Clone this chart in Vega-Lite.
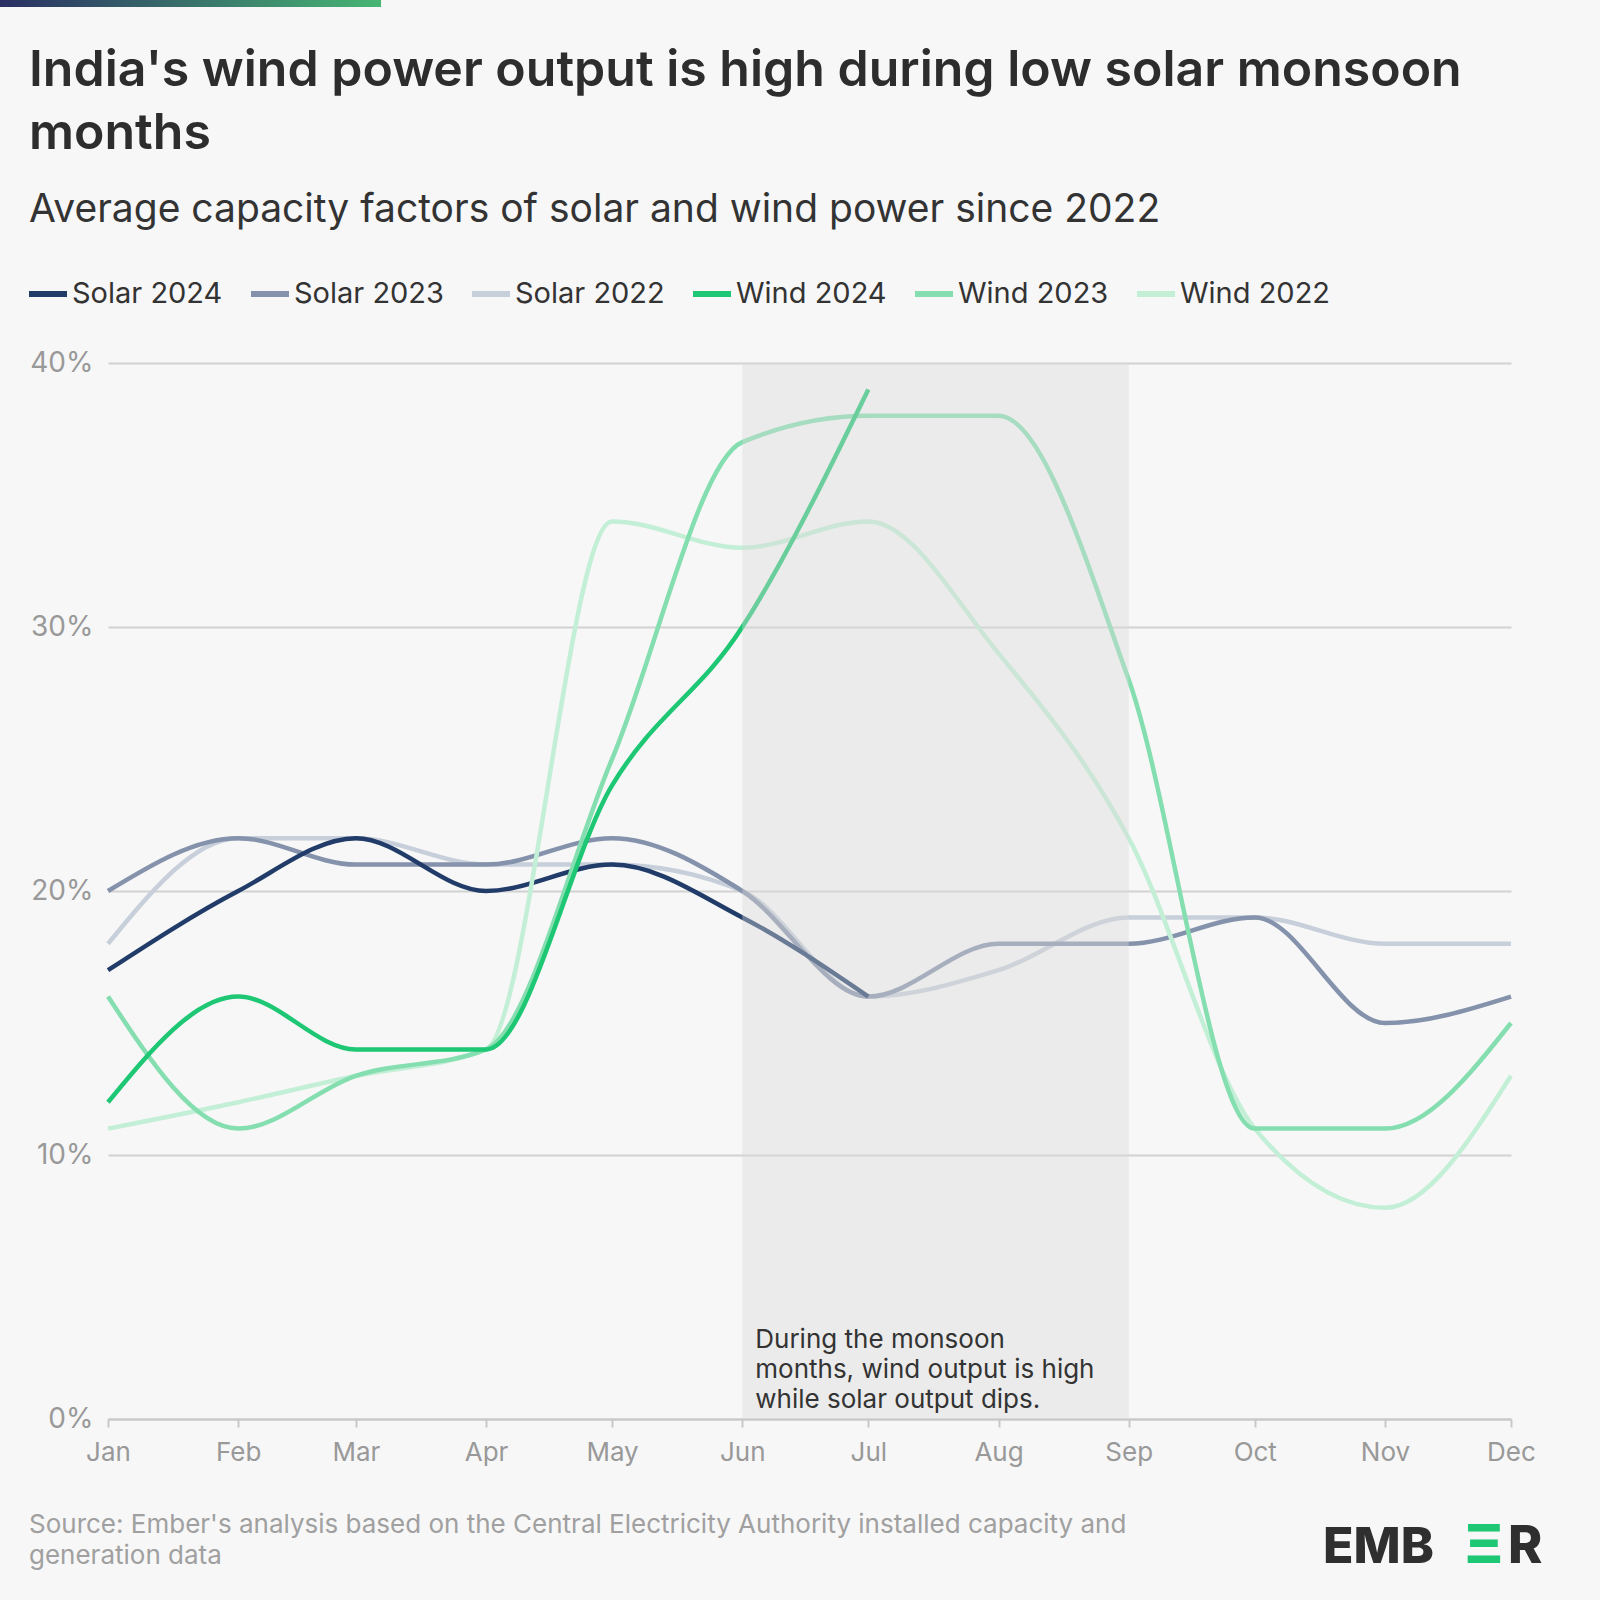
{
  "$schema": "https://vega.github.io/schema/vega-lite/v6.json",
  "width": 1403,
  "height": 1056,
  "autosize": {"type": "none"},
  "padding": {"left": 108, "top": 363, "right": 89, "bottom": 181},
  "background": "#f7f7f7",
  "config": {
    "font": "Inter",
    "view": {"stroke": null},
    "axisX": {
      "domainColor": "#c8c8c8", "domainWidth": 2, "tickColor": "#c8c8c8", "tickWidth": 2, "tickSize": 8,
      "labelColor": "#999999", "labelFontSize": 26, "labelPadding": 12, "labelFlush": false, "grid": false, "title": null, "labelFont": "Inter"
    },
    "axisY": {
      "domain": false, "ticks": false, "grid": true, "gridColor": "#d2d2d2", "gridWidth": 2,
      "labelColor": "#999999", "labelFontSize": 28, "labelPadding": 15, "title": null, "labelFont": "Inter"
    }
  },
  "title": {
    "text": ["India's wind power output is high during low solar monsoon", "months"],
    "subtitle": "Average capacity factors of solar and wind power since 2022",
    "anchor": "start",
    "frame": "group",
    "dx": -79,
    "offset": -230,
    "font": "Inter",
    "fontSize": 50,
    "fontWeight": 600,
    "color": "#2d2d2d",
    "lineHeight": 63,
    "subtitleFont": "Inter",
    "subtitleFontSize": 39,
    "subtitleFontWeight": 400,
    "subtitleColor": "#333333",
    "subtitlePadding": 32
  },
  "datasets": {
    "cf": [
      {"series": "Solar 2022", "date": "2023-01-01", "value": 18},
      {"series": "Solar 2022", "date": "2023-02-01", "value": 22},
      {"series": "Solar 2022", "date": "2023-03-01", "value": 22},
      {"series": "Solar 2022", "date": "2023-04-01", "value": 21},
      {"series": "Solar 2022", "date": "2023-05-01", "value": 21},
      {"series": "Solar 2022", "date": "2023-06-01", "value": 20},
      {"series": "Solar 2022", "date": "2023-07-01", "value": 16},
      {"series": "Solar 2022", "date": "2023-08-01", "value": 17},
      {"series": "Solar 2022", "date": "2023-09-01", "value": 19},
      {"series": "Solar 2022", "date": "2023-10-01", "value": 19},
      {"series": "Solar 2022", "date": "2023-11-01", "value": 18},
      {"series": "Solar 2022", "date": "2023-12-01", "value": 18},
      {"series": "Solar 2023", "date": "2023-01-01", "value": 20},
      {"series": "Solar 2023", "date": "2023-02-01", "value": 22},
      {"series": "Solar 2023", "date": "2023-03-01", "value": 21},
      {"series": "Solar 2023", "date": "2023-04-01", "value": 21},
      {"series": "Solar 2023", "date": "2023-05-01", "value": 22},
      {"series": "Solar 2023", "date": "2023-06-01", "value": 20},
      {"series": "Solar 2023", "date": "2023-07-01", "value": 16},
      {"series": "Solar 2023", "date": "2023-08-01", "value": 18},
      {"series": "Solar 2023", "date": "2023-09-01", "value": 18},
      {"series": "Solar 2023", "date": "2023-10-01", "value": 19},
      {"series": "Solar 2023", "date": "2023-11-01", "value": 15},
      {"series": "Solar 2023", "date": "2023-12-01", "value": 16},
      {"series": "Solar 2024", "date": "2023-01-01", "value": 17},
      {"series": "Solar 2024", "date": "2023-02-01", "value": 20},
      {"series": "Solar 2024", "date": "2023-03-01", "value": 22},
      {"series": "Solar 2024", "date": "2023-04-01", "value": 20},
      {"series": "Solar 2024", "date": "2023-05-01", "value": 21},
      {"series": "Solar 2024", "date": "2023-06-01", "value": 19},
      {"series": "Solar 2024", "date": "2023-07-01", "value": 16},
      {"series": "Wind 2022", "date": "2023-01-01", "value": 11},
      {"series": "Wind 2022", "date": "2023-02-01", "value": 12},
      {"series": "Wind 2022", "date": "2023-03-01", "value": 13},
      {"series": "Wind 2022", "date": "2023-04-01", "value": 14},
      {"series": "Wind 2022", "date": "2023-05-01", "value": 34},
      {"series": "Wind 2022", "date": "2023-06-01", "value": 33},
      {"series": "Wind 2022", "date": "2023-07-01", "value": 34},
      {"series": "Wind 2022", "date": "2023-08-01", "value": 29},
      {"series": "Wind 2022", "date": "2023-09-01", "value": 22},
      {"series": "Wind 2022", "date": "2023-10-01", "value": 11},
      {"series": "Wind 2022", "date": "2023-11-01", "value": 8},
      {"series": "Wind 2022", "date": "2023-12-01", "value": 13},
      {"series": "Wind 2023", "date": "2023-01-01", "value": 16},
      {"series": "Wind 2023", "date": "2023-02-01", "value": 11},
      {"series": "Wind 2023", "date": "2023-03-01", "value": 13},
      {"series": "Wind 2023", "date": "2023-04-01", "value": 14},
      {"series": "Wind 2023", "date": "2023-05-01", "value": 25},
      {"series": "Wind 2023", "date": "2023-06-01", "value": 37},
      {"series": "Wind 2023", "date": "2023-07-01", "value": 38},
      {"series": "Wind 2023", "date": "2023-08-01", "value": 38},
      {"series": "Wind 2023", "date": "2023-09-01", "value": 28},
      {"series": "Wind 2023", "date": "2023-10-01", "value": 11},
      {"series": "Wind 2023", "date": "2023-11-01", "value": 11},
      {"series": "Wind 2023", "date": "2023-12-01", "value": 15},
      {"series": "Wind 2024", "date": "2023-01-01", "value": 12},
      {"series": "Wind 2024", "date": "2023-02-01", "value": 16},
      {"series": "Wind 2024", "date": "2023-03-01", "value": 14},
      {"series": "Wind 2024", "date": "2023-04-01", "value": 14},
      {"series": "Wind 2024", "date": "2023-05-01", "value": 24},
      {"series": "Wind 2024", "date": "2023-06-01", "value": 30},
      {"series": "Wind 2024", "date": "2023-07-01", "value": 39}
    ],
    "monsoon": [{"start": "2023-06-01", "end": "2023-09-01"}],
    "one": [{}]
  },
  "layer": [
    {
      "data": {"name": "one"},
      "mark": {"type": "rect", "color": {"gradient": "linear", "x1": 0, "x2": 1, "y1": 0, "y2": 0, "stops": [{"offset": 0, "color": "#2a2f63"}, {"offset": 1, "color": "#47b673"}]}},
      "encoding": {
        "x": {"datum": {"year": 2022, "month": 12, "date": 6, "hours": 7, "utc": true}, "type": "temporal", "scale": {"type": "utc", "domain": [{"year": 2023, "month": 1, "date": 1, "utc": true}, {"year": 2023, "month": 12, "date": 1, "utc": true}], "nice": false}},
        "x2": {"datum": {"year": 2023, "month": 3, "date": 7, "utc": true}},
        "y": {"datum": 53.75, "type": "quantitative", "scale": {"domain": [0, 40], "nice": false}},
        "y2": {"datum": 53.485}
      }
    },
    {
      "data": {"name": "cf"},
      "mark": {"type": "line", "interpolate": "monotone", "strokeWidth": 4.5, "strokeCap": "butt"},
      "encoding": {
        "x": {"field": "date", "type": "temporal", "scale": {"type": "utc", "domain": [{"year": 2023, "month": 1, "date": 1, "utc": true}, {"year": 2023, "month": 12, "date": 1, "utc": true}], "nice": false},
          "axis": {"tickCount": {"interval": "month", "step": 1}, "labelExpr": "utcFormat(datum.value, '%b')"}},
        "y": {"field": "value", "type": "quantitative", "scale": {"domain": [0, 40], "nice": false},
          "axis": {"values": [0, 10, 20, 30, 40], "labelExpr": "datum.value + '%'"}},
        "color": {
          "field": "series", "type": "nominal",
          "scale": {
            "domain": ["Solar 2024", "Solar 2023", "Solar 2022", "Wind 2024", "Wind 2023", "Wind 2022"],
            "range": ["#213c69", "#8592ab", "#c7cfda", "#1ec773", "#84deaf", "#c2efd6"]
          },
          "legend": {
            "title": null, "orient": "none", "direction": "horizontal", "legendX": -82, "legendY": -91,
            "symbolType": "stroke", "symbolSize": 1444, "symbolStrokeWidth": 6,
            "labelFontSize": 29, "labelColor": "#333333", "labelFont": "Inter", "labelOffset": 2, "columnPadding": 16, "labelLimit": 400
          }
        }
      }
    },
    {
      "data": {"name": "monsoon"},
      "mark": {"type": "rect", "color": "#d9d9d9", "opacity": 0.4},
      "encoding": {
        "x": {"field": "start", "type": "temporal"},
        "x2": {"field": "end"}
      }
    },
    {
      "data": {"name": "one"},
      "mark": {"type": "text", "text": ["During the monsoon", "months, wind output is high", "while solar output dips."], "align": "left", "baseline": "alphabetic", "fontSize": 26, "lineHeight": 30, "color": "#333333", "dx": 13, "dy": -71},
      "encoding": {
        "x": {"datum": {"year": 2023, "month": 6, "date": 1, "utc": true}, "type": "temporal"},
        "y": {"datum": 0, "type": "quantitative"}
      }
    },
    {
      "data": {"name": "one"},
      "mark": {"type": "text", "text": ["Source: Ember's analysis based on the Central Electricity Authority installed capacity and", "generation data"], "align": "left", "baseline": "alphabetic", "fontSize": 26, "lineHeight": 31, "color": "#a0a0a0", "dx": -79, "dy": 114},
      "encoding": {
        "x": {"datum": {"year": 2023, "month": 1, "date": 1, "utc": true}, "type": "temporal"},
        "y": {"datum": 0, "type": "quantitative"}
      }
    },
    {
      "data": {"name": "one"},
      "mark": {"type": "text", "text": "EMB", "align": "right", "baseline": "alphabetic", "fontSize": 50, "fontWeight": 800, "color": "#2f2f2f", "dx": -77, "dy": 144},
      "encoding": {
        "x": {"datum": {"year": 2023, "month": 12, "date": 1, "utc": true}, "type": "temporal"},
        "y": {"datum": 0, "type": "quantitative"}
      }
    },
    {
      "data": {"name": "one"},
      "mark": {"type": "text", "text": "Ξ", "align": "center", "baseline": "alphabetic", "fontSize": 54, "fontWeight": 800, "color": "#1ec773", "dx": -27, "dy": 144},
      "encoding": {
        "x": {"datum": {"year": 2023, "month": 12, "date": 1, "utc": true}, "type": "temporal"},
        "y": {"datum": 0, "type": "quantitative"}
      }
    },
    {
      "data": {"name": "one"},
      "mark": {"type": "text", "text": "R", "align": "left", "baseline": "alphabetic", "fontSize": 52, "fontWeight": 800, "color": "#2f2f2f", "dx": -3, "dy": 144},
      "encoding": {
        "x": {"datum": {"year": 2023, "month": 12, "date": 1, "utc": true}, "type": "temporal"},
        "y": {"datum": 0, "type": "quantitative"}
      }
    }
  ]
}
